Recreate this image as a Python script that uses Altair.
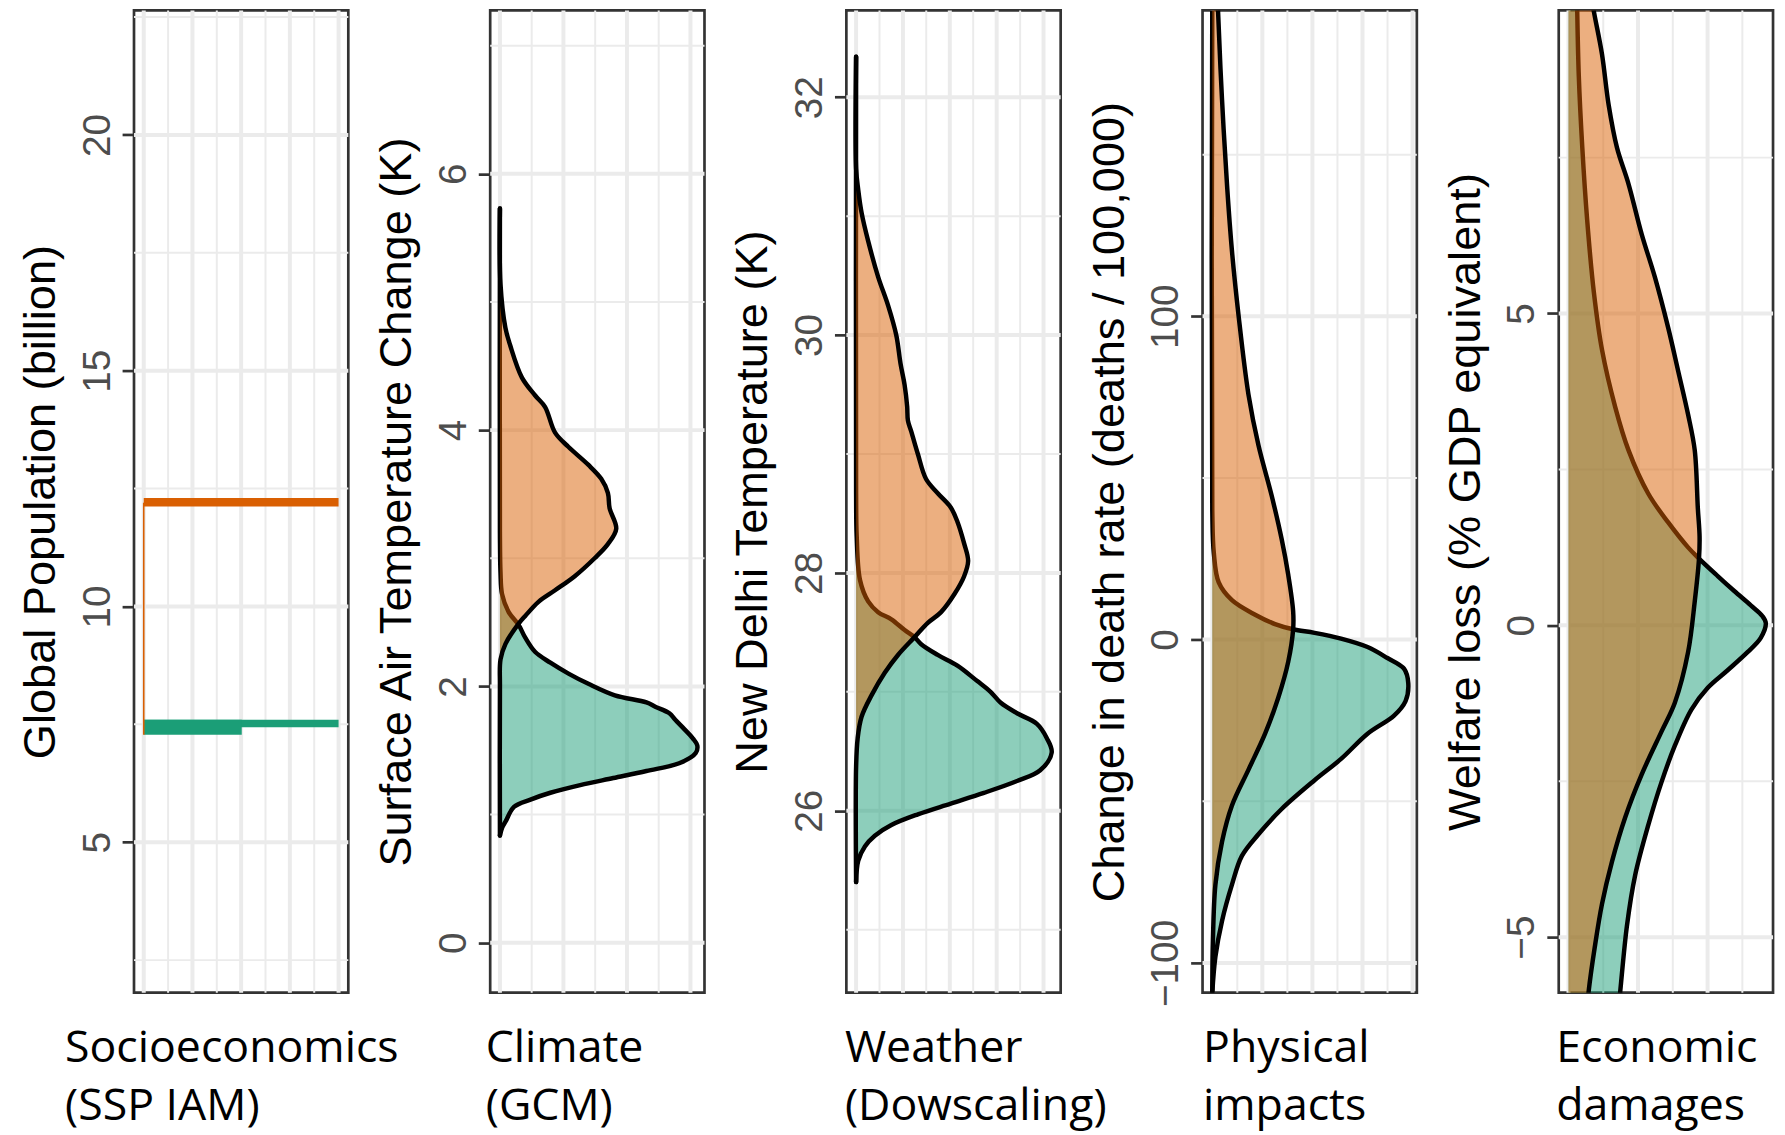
import altair as alt
import pandas as pd

GREEN = "#1B9E77"
ORANGE = "#D95F02"
GRID = "#EBEBEB"

# ---------------- Panel 1: Socioeconomics (population, billion) ----------------
POP_BAND_SCN = ["high", "low", "low"]
POP_BAND_Y0 = [12.12, 7.44, 7.28]
POP_BAND_Y1 = [12.30, 7.60, 7.60]
POP_BAND_D0 = [0.0, 0.0, 0.0]
POP_BAND_D1 = [1.0, 1.0, 0.503]
POP_TAIL_Y = [7.28, 12.2]
POP_TAIL_D = [0.0, 0.0]

# ---------------- Panel 2: Climate (surface air temperature change, K) ----------
CLIM_LOW_Y = [0.836, 0.90, 0.948, 1.06, 1.117, 1.17, 1.23, 1.285, 1.34, 1.40, 1.48, 1.54,
              1.595, 1.68, 1.74, 1.79, 1.84, 1.875, 1.93, 2.02, 2.10, 2.185, 2.27, 2.38,
              2.48, 2.58, 2.72, 2.89, 3.2, 5.73]
CLIM_LOW_D = [0.0, 0.012, 0.03, 0.072, 0.157, 0.259, 0.412, 0.582, 0.752, 0.92, 1.005, 1.013,
              0.99, 0.938, 0.90, 0.87, 0.80, 0.752, 0.59, 0.454, 0.352, 0.259, 0.18, 0.13,
              0.096, 0.045, 0.011, 0.003, 0.0, 0.0]
CLIM_HIGH_Y = [0.836, 1.99, 2.21, 2.33, 2.49, 2.55, 2.66, 2.75, 2.86, 3.00, 3.11, 3.23, 3.39,
               3.51, 3.62, 3.73, 3.87, 3.98, 4.18, 4.27, 4.41, 4.66, 4.80, 5.14, 5.73]
CLIM_HIGH_D = [0.0, 0.0, 0.003, 0.028, 0.096, 0.13, 0.198, 0.283, 0.384, 0.486, 0.554, 0.597,
               0.563, 0.554, 0.52, 0.453, 0.351, 0.283, 0.232, 0.181, 0.113, 0.053, 0.028,
               0.003, 0.0]

# ---------------- Panel 3: Weather (New Delhi temperature, K) -------------------
WEA_LOW_Y = [25.40, 25.58, 25.70, 25.79, 25.88, 25.97, 26.06, 26.15, 26.25, 26.34, 26.49,
             26.61, 26.73, 26.82, 26.91, 27.00, 27.09, 27.22, 27.31, 27.40, 27.46, 27.52,
             27.61, 27.67, 27.76, 27.94, 28.31, 28.67, 32.34]
WEA_LOW_D = [0.0, 0.011, 0.045, 0.096, 0.181, 0.317, 0.486, 0.656, 0.826, 0.945, 1.004,
             0.979, 0.928, 0.826, 0.741, 0.69, 0.622, 0.52, 0.419, 0.334, 0.30, 0.249,
             0.181, 0.113, 0.062, 0.02, 0.003, 0.0, 0.0]
WEA_HIGH_Y = [25.40, 26.37, 26.61, 26.79, 26.97, 27.16, 27.31, 27.46, 27.58, 27.67, 27.82,
              27.97, 28.10, 28.25, 28.43, 28.55, 28.67, 28.79, 29.00, 29.19, 29.28, 29.40,
              29.58, 29.76, 30.00, 30.25, 30.49, 30.79, 31.03, 31.22, 31.40, 32.34]
WEA_HIGH_D = [0.0, 0.0, 0.008, 0.028, 0.079, 0.147, 0.215, 0.30, 0.368, 0.436, 0.504,
              0.554, 0.575, 0.554, 0.52, 0.486, 0.419, 0.359, 0.317, 0.283, 0.266, 0.262,
              0.249, 0.228, 0.206, 0.164, 0.113, 0.062, 0.028, 0.011, 0.0, 0.0]

# ---------------- Panel 4: Physical impacts (deaths / 100,000) ------------------
IMP_LOW_Y = [-109.3, -98.1, -87.0, -75.8, -66.9, -60.2, -52.4, -43.5, -36.9, -29.1, -23.5,
             -19.0, -13.5, -9.0, -5.7, -2.3, 0.3, 2.1, 3.2, 4.8, 7.7, 12.2, 17.7, 26.7,
             40.0, 200.0]
IMP_LOW_D = [0.0, 0.016, 0.05, 0.101, 0.152, 0.237, 0.356, 0.525, 0.661, 0.797, 0.933,
             0.992, 1.006, 0.984, 0.899, 0.797, 0.661, 0.525, 0.415, 0.322, 0.22, 0.101,
             0.033, 0.008, 0.0, 0.0]
IMP_HIGH_Y = [-109.3, -93.7, -75.8, -62.5, -51.3, -40.2, -29.1, -17.9, -6.8, 3.2, 8.8, 20.0,
              31.1, 44.5, 60.1, 75.7, 100.2, 120.2, 140.3, 167.0, 193.8, 200.0]
IMP_HIGH_D = [0.0, 0.003, 0.016, 0.05, 0.101, 0.186, 0.271, 0.339, 0.39, 0.415, 0.415, 0.39,
              0.356, 0.305, 0.237, 0.186, 0.135, 0.101, 0.076, 0.05, 0.03, 0.028]

# ---------------- Panel 5: Economic damages (% GDP) ----------------------------
ECO_LOW_Y = [-6.2, -5.86, -4.82, -4.01, -3.20, -2.51, -1.93, -1.35, -1.00, -0.72, -0.43,
             -0.20, 0.035, 0.15, 0.32, 0.55, 0.79, 1.07, 1.25, 1.65, 2.11, 2.81, 3.50, 4.42,
             5.35, 6.50, 7.66, 8.81, 9.85, 10.3]
ECO_LOW_D = [0.255, 0.266, 0.30, 0.342, 0.41, 0.478, 0.546, 0.631, 0.715, 0.817, 0.919,
             0.987, 1.013, 0.995, 0.936, 0.851, 0.766, 0.67, 0.614, 0.512, 0.41, 0.308, 0.24,
             0.172, 0.13, 0.096, 0.071, 0.053, 0.045, 0.043]
ECO_HIGH_Y = [-6.2, -5.86, -5.16, -4.47, -3.78, -3.08, -2.39, -1.70, -1.24, -0.43, 0.38,
              1.07, 1.42, 1.88, 2.81, 3.38, 4.08, 4.77, 5.58, 6.27, 7.08, 7.66, 8.35, 9.16,
              9.85, 10.3]
ECO_HIGH_D = [0.095, 0.104, 0.135, 0.172, 0.224, 0.291, 0.376, 0.478, 0.546, 0.614, 0.648,
              0.67, 0.673, 0.664, 0.648, 0.614, 0.563, 0.512, 0.444, 0.376, 0.308, 0.249,
              0.206, 0.172, 0.13, 0.105]

# ---------------- Axes / titles ----------------
Y_TITLES = ["Global Population (billion)", "Surface Air Temperature Change (K)",
            "New Delhi Temperature (K)", "Change in death rate (deaths / 100,000)",
            "Welfare loss (% GDP equivalent)"]
X_TITLES = [["Socioeconomics", "(SSP IAM)"], ["Climate", "(GCM)"], ["Weather", "(Dowscaling)"],
            ["Physical", "impacts"], ["Economic", "damages"]]
X_TITLE_OFFSETS = [-70, -5, -2, 0, -3]
Y_DOMAINS = [[1.81, 22.64], [-0.39, 7.275], [24.47, 32.73], [-109.2, 194.6], [-5.89, 9.86]]
Y_TICKS = [[5, 10, 15, 20], [0, 2, 4, 6], [26, 28, 30, 32], [-100, 0, 100], [-5, 0, 5]]
Y_MINOR = [[2.5, 7.5, 12.5, 17.5, 22.5], [1, 3, 5, 7], [25, 27, 29, 31], [-50, 50, 150],
           [-2.5, 2.5, 7.5]]
X_MAJOR = [[0, 0.25, 0.5, 0.75, 1.0], [0, 0.326, 0.652, 0.978],
           [0, 0.2405, 0.481, 0.7215, 0.962], [0, 0.257, 0.514, 0.771, 1.028],
           [0, 0.357, 0.714]]
X_MINOR = [[0.125, 0.375, 0.625, 0.875], [0.163, 0.489, 0.815],
           [0.12, 0.36, 0.601, 0.842], [0.1285, 0.3855, 0.6425, 0.8995],
           [0.1785, 0.5355, 0.8925]]
X_DOMAIN = [-0.05, 1.05]

DENSITIES = [None,
             (CLIM_LOW_Y, CLIM_LOW_D, CLIM_HIGH_Y, CLIM_HIGH_D),
             (WEA_LOW_Y, WEA_LOW_D, WEA_HIGH_Y, WEA_HIGH_D),
             (IMP_LOW_Y, IMP_LOW_D, IMP_HIGH_Y, IMP_HIGH_D),
             (ECO_LOW_Y, ECO_LOW_D, ECO_HIGH_Y, ECO_HIGH_D)]

W, H = 216, 990


def make_panel(i):
    xs = alt.Scale(domain=X_DOMAIN, nice=False, zero=False)
    ys = alt.Scale(domain=Y_DOMAINS[i], nice=False, zero=False)
    yaxis = alt.Axis(
        title=Y_TITLES[i], values=Y_TICKS[i], grid=False, domain=False,
        tickSize=12, tickWidth=2.7, tickColor="#333333",
        labelAngle=270, labelAlign="center", labelBaseline="alphabetic", labelPadding=13,
        labelFont="Liberation Sans", labelFontSize=39, labelColor="#4D4D4D",
        labelOverlap=False, labelBound=False, labelFlush=False,
        titleFont="Liberation Sans", titleFontSize=45.5, titleFontWeight="normal",
        titleColor="black", titleAngle=270, titleAlign="center",
        titleBaseline="alphabetic", titleX=-80, titleY=H / 2)
    xaxis = alt.Axis(
        title=X_TITLES[i], labels=False, ticks=False, domain=False, grid=False,
        titleFont="Open Sans", titleFontSize=45, titleFontWeight="normal",
        titleColor="black", titleAlign="left", titleBaseline="alphabetic",
        titleX=X_TITLE_OFFSETS[i], titleY=69, titleLineHeight=59)

    def X(field):
        return alt.X(field, scale=xs, axis=xaxis)

    def Y(field):
        return alt.Y(field, scale=ys, axis=yaxis)

    layers = []
    # grid lines (vertical then horizontal), minor thinner than major
    for vals, sw in ((X_MINOR[i], 2), (X_MAJOR[i], 4)):
        layers.append(alt.Chart(pd.DataFrame({"g": vals})).mark_rule(
            color=GRID, strokeWidth=sw).encode(x=X("g:Q")))
    for vals, sw in ((Y_MINOR[i], 2), (Y_TICKS[i], 4)):
        layers.append(alt.Chart(pd.DataFrame({"g": vals})).mark_rule(
            color=GRID, strokeWidth=sw).encode(y=Y("g:Q")))

    if i == 0:
        bands = pd.DataFrame({"scn": POP_BAND_SCN, "y0": POP_BAND_Y0, "y1": POP_BAND_Y1,
                              "d0": POP_BAND_D0, "d1": POP_BAND_D1})
        layers.append(alt.Chart(bands).mark_rect().encode(
            x=X("d0:Q"), x2="d1:Q", y=Y("y0:Q"), y2="y1:Q",
            color=alt.Color("scn:N", scale=alt.Scale(domain=["high", "low"],
                                                       range=[ORANGE, GREEN]), legend=None)))
        tail = pd.DataFrame({"y": POP_TAIL_Y, "d": POP_TAIL_D})
        layers.append(alt.Chart(tail).mark_line(color=ORANGE, strokeWidth=1.6).encode(
            x=X("d:Q"), y=Y("y:Q"), order="y:Q"))
    else:
        ly, ld, hy, hd = DENSITIES[i]
        for yy, dd, col in ((ly, ld, GREEN), (hy, hd, ORANGE)):
            df = pd.DataFrame({"y": yy, "d": dd})
            layers.append(alt.Chart(df).mark_area(
                orient="horizontal", color=col, opacity=0.5, clip=True,
                interpolate="catmull-rom").encode(
                x=X("d:Q"), x2=alt.datum(0), y=Y("y:Q")))
            layers.append(alt.Chart(df).mark_line(
                color="black", strokeWidth=4.5, clip=True, strokeJoin="round",
                strokeCap="round", interpolate="catmull-rom").encode(
                x=X("d:Q"), y=Y("y:Q"), order="y:Q"))
    return alt.layer(*layers).properties(width=W, height=H)


chart = alt.hconcat(*[make_panel(i) for i in range(5)], spacing=143, bounds="flush").properties(
    padding={"left": 9, "top": -6, "right": 0, "bottom": 0}
).configure(background="white").configure_view(stroke="#333333", strokeWidth=2.7, fill="white")

chart.save("out.html", embed_options={"renderer": "svg", "actions": False})
